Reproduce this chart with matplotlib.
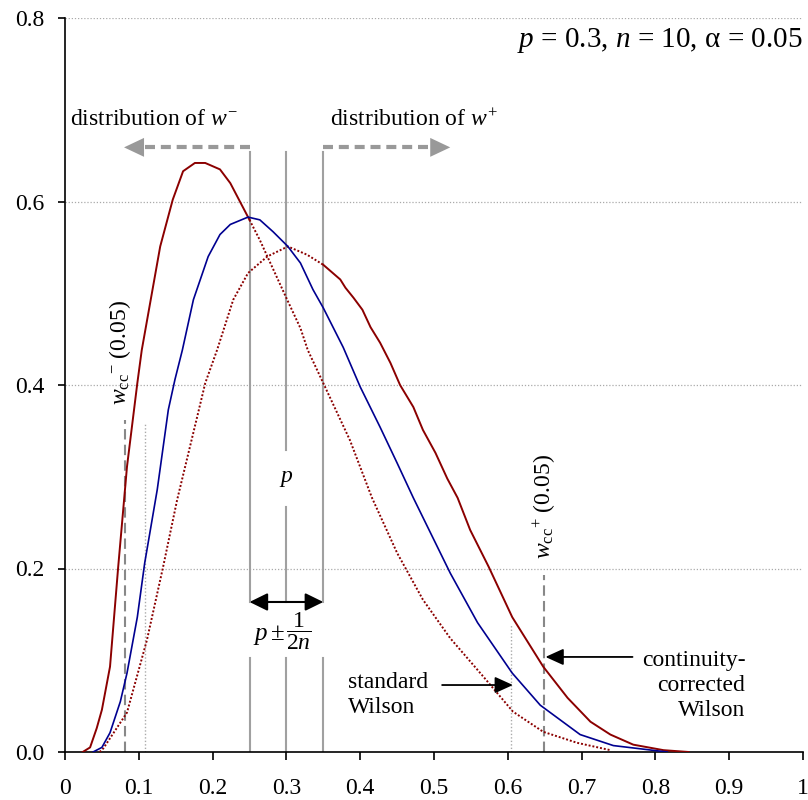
import numpy as np
import matplotlib
matplotlib.use("Agg")
from matplotlib import pyplot as plt

plt.rcParams['font.family'] = ['Liberation Serif', 'DejaVu Serif']
plt.rcParams['mathtext.fontset'] = 'custom'
plt.rcParams['mathtext.rm'] = 'Liberation Serif'
plt.rcParams['mathtext.it'] = 'Liberation Serif:italic'
plt.rcParams['font.size'] = 17

# parameters
p = 0.3
n = 10
alpha = 0.05
w_minus, w_plus = 0.108, 0.604        # standard Wilson bounds
wcc_minus, wcc_plus = 0.081, 0.649    # continuity-corrected bounds

# continuity-corrected distribution of w- (solid left of p-1/2n, dotted after)
cc_lo_x = [0.024, 0.034, 0.043, 0.050, 0.061, 0.072, 0.084, 0.098, 0.104, 0.129,
           0.146, 0.160, 0.176, 0.190, 0.210, 0.224, 0.250, 0.264, 0.301, 0.319,
           0.329, 0.350, 0.386, 0.416, 0.450, 0.485, 0.522, 0.567, 0.607, 0.648,
           0.694, 0.739]
cc_lo_y = [0.000, 0.005, 0.026, 0.046, 0.093, 0.201, 0.311, 0.402, 0.438, 0.551,
           0.602, 0.633, 0.642, 0.642, 0.635, 0.620, 0.580, 0.558, 0.493, 0.462,
           0.438, 0.402, 0.340, 0.277, 0.217, 0.166, 0.124, 0.082, 0.044, 0.022,
           0.010, 0.002]

# continuity-corrected distribution of w+ (dotted left of p+1/2n, solid after)
cc_hi_x = [0.047, 0.052, 0.084, 0.111, 0.133, 0.152, 0.179, 0.190, 0.206, 0.228,
           0.248, 0.274, 0.302, 0.328, 0.350, 0.373, 0.380, 0.391, 0.403, 0.414,
           0.427, 0.441, 0.454, 0.472, 0.485, 0.502, 0.518, 0.532, 0.549, 0.574,
           0.606, 0.648, 0.681, 0.712, 0.739, 0.770, 0.811, 0.845]
cc_hi_y = [0.000, 0.004, 0.043, 0.122, 0.202, 0.275, 0.365, 0.402, 0.438, 0.493,
           0.522, 0.540, 0.551, 0.542, 0.531, 0.515, 0.506, 0.495, 0.482, 0.463,
           0.446, 0.424, 0.400, 0.376, 0.351, 0.326, 0.298, 0.277, 0.242, 0.202,
           0.147, 0.093, 0.059, 0.033, 0.019, 0.008, 0.002, 0.000]

# standard Wilson distribution
wil_x = [0.038, 0.050, 0.061, 0.075, 0.084, 0.098, 0.108, 0.125, 0.140, 0.149,
         0.159, 0.174, 0.194, 0.210, 0.224, 0.248, 0.264, 0.282, 0.302, 0.319,
         0.336, 0.350, 0.377, 0.400, 0.427, 0.450, 0.472, 0.522, 0.559, 0.606,
         0.644, 0.698, 0.743, 0.816]
wil_y = [0.000, 0.005, 0.021, 0.055, 0.086, 0.147, 0.206, 0.286, 0.373, 0.406,
         0.438, 0.493, 0.540, 0.564, 0.575, 0.583, 0.580, 0.567, 0.551, 0.533,
         0.504, 0.484, 0.441, 0.398, 0.354, 0.315, 0.277, 0.195, 0.141, 0.086,
         0.051, 0.019, 0.007, 0.000]

red = '#8b0000'
blue = '#000090'
grey = '#a0a0a0'

fig = plt.figure(figsize=(8.08, 8.0), dpi=100)
ax = fig.add_axes([65/808, 48/800, 738/808, 734/800])

lo_x, lo_y = np.array(cc_lo_x), np.array(cc_lo_y)
hi_x, hi_y = np.array(cc_hi_x), np.array(cc_hi_y)
a = p - 1/(2*n)
b = p + 1/(2*n)

# grid
for gy in [0.2, 0.4, 0.6, 0.8]:
    ax.axhline(gy, color='#aaaaaa', lw=0.9, ls=(0, (1, 1.5)), zorder=0)

# vertical lines p, p +- 1/2n (with gaps for labels)
top = 0.654
for xv in [a, b]:
    ax.plot([xv, xv], [0, 0.1025], color=grey, lw=1.5, zorder=1)
    ax.plot([xv, xv], [0.1635, top], color=grey, lw=1.5, zorder=1)
ax.plot([p, p], [0, 0.1025], color=grey, lw=1.5, zorder=1)
ax.plot([p, p], [0.1635, 0.267], color=grey, lw=1.5, zorder=1)
ax.plot([p, p], [0.329, top], color=grey, lw=1.5, zorder=1)

# bounds
ax.plot([wcc_minus, wcc_minus], [0, 0.362], color='#888888', lw=1.5, ls=(0, (5, 2.5)), zorder=1)
ax.plot([wcc_plus, wcc_plus], [0, 0.193], color='#888888', lw=1.5, ls=(0, (5, 2.5)), zorder=1)
ax.plot([w_minus, w_minus], [0, 0.357], color='#aaaaaa', lw=1.0, ls=(0, (1, 1.5)), zorder=1)
ax.plot([w_plus, w_plus], [0, 0.138], color='#aaaaaa', lw=1.0, ls=(0, (1, 1.5)), zorder=1)

# curves
ax.plot(lo_x[lo_x <= a], lo_y[lo_x <= a], color=red, lw=1.4, zorder=3)
ax.plot(lo_x[lo_x >= a], lo_y[lo_x >= a], color=red, lw=1.4, ls=(0, (1, 1)), zorder=3)
ax.plot(hi_x[hi_x <= b], hi_y[hi_x <= b], color=red, lw=1.4, ls=(0, (1, 1)), zorder=3)
ax.plot(hi_x[hi_x >= b], hi_y[hi_x >= b], color=red, lw=1.4, zorder=3)
ax.plot(wil_x, wil_y, color=blue, lw=1.2, zorder=4)

# grey "distribution" arrows
ay = 0.659
ax.plot([a, 0.107], [ay, ay], color='#999999', lw=3, dashes=(2.4, 1.4), solid_capstyle='butt')
ax.annotate('', xy=(0.080, ay), xytext=(0.107, ay),
            arrowprops=dict(arrowstyle='-|>,head_length=0.72,head_width=0.34',
                            color='#999999', lw=0, shrinkA=0, shrinkB=0, mutation_scale=20))
ax.plot([b, 0.495], [ay, ay], color='#999999', lw=3, dashes=(2.4, 1.4), solid_capstyle='butt')
ax.annotate('', xy=(0.522, ay), xytext=(0.495, ay),
            arrowprops=dict(arrowstyle='-|>,head_length=0.72,head_width=0.34',
                            color='#999999', lw=0, shrinkA=0, shrinkB=0, mutation_scale=20))
ax.text(0.007, 0.689, 'distribution of $w^{-}$', ha='left', va='center')
ax.text(0.359, 0.689, 'distribution of $w^{+}$', ha='left', va='center')

# p +- 1/2n
ax.annotate('', xy=(a, 0.1635), xytext=(b, 0.1635),
            arrowprops=dict(arrowstyle='<|-|>,head_length=0.55,head_width=0.27',
                            color='black', lw=1.5, shrinkA=0, shrinkB=0, mutation_scale=20))
ax.text(p, 0.298, '$p$', ha='center', va='center')
ax.text(0.298, 0.127, r'$p\pm$', ha='right', va='center', fontsize=18)
ax.text(0.300, 0.131, r'$\dfrac{1}{2n}$', ha='left', va='center', fontsize=17)

# bound labels
ax.text(0.0746, 0.435, r'${w_{\mathrm{cc}}}^{-}$ (0.05)', rotation=90, ha='center', va='center')
ax.text(0.650, 0.268, r'${w_{\mathrm{cc}}}^{+}$ (0.05)', rotation=90, ha='center', va='center')

# annotations
ax.annotate('', xy=(0.607, 0.073), xytext=(0.511, 0.073),
            arrowprops=dict(arrowstyle='-|>,head_length=0.55,head_width=0.25',
                            color='black', lw=1.3, shrinkA=0, shrinkB=0, mutation_scale=20))
ax.text(0.384, 0.062, 'standard\nWilson', ha='left', va='center', linespacing=1.25)
ax.annotate('', xy=(0.651, 0.1036), xytext=(0.769, 0.1036),
            arrowprops=dict(arrowstyle='-|>,head_length=0.55,head_width=0.25',
                            color='black', lw=1.3, shrinkA=0, shrinkB=0, mutation_scale=20))
ax.text(0.922, 0.073, 'continuity-\ncorrected\nWilson', ha='right', va='center', linespacing=1.25)

ax.text(0.999, 0.776, '$p$ = 0.3, $n$ = 10, α = 0.05', ha='right', va='center', fontsize=21)

ax.set_xlim(0, 1)
ax.set_ylim(0, 0.8)
ax.set_xticks(np.arange(0, 1.01, 0.1))
ax.set_xticklabels(['0', '0.1', '0.2', '0.3', '0.4', '0.5', '0.6', '0.7', '0.8', '0.9', '1'])
ax.set_yticks([0, 0.2, 0.4, 0.6, 0.8])
ax.set_yticklabels(['0.0', '0.2', '0.4', '0.6', '0.8'])
ax.spines['top'].set_visible(False)
ax.spines['right'].set_visible(False)
ax.spines['left'].set_linewidth(1.2)
ax.spines['bottom'].set_linewidth(1.2)
ax.tick_params(axis='x', direction='out', length=6, width=1.2, pad=13)
ax.tick_params(axis='y', direction='out', length=5, width=1.2, pad=10)

plt.savefig("out.png", dpi=100)
